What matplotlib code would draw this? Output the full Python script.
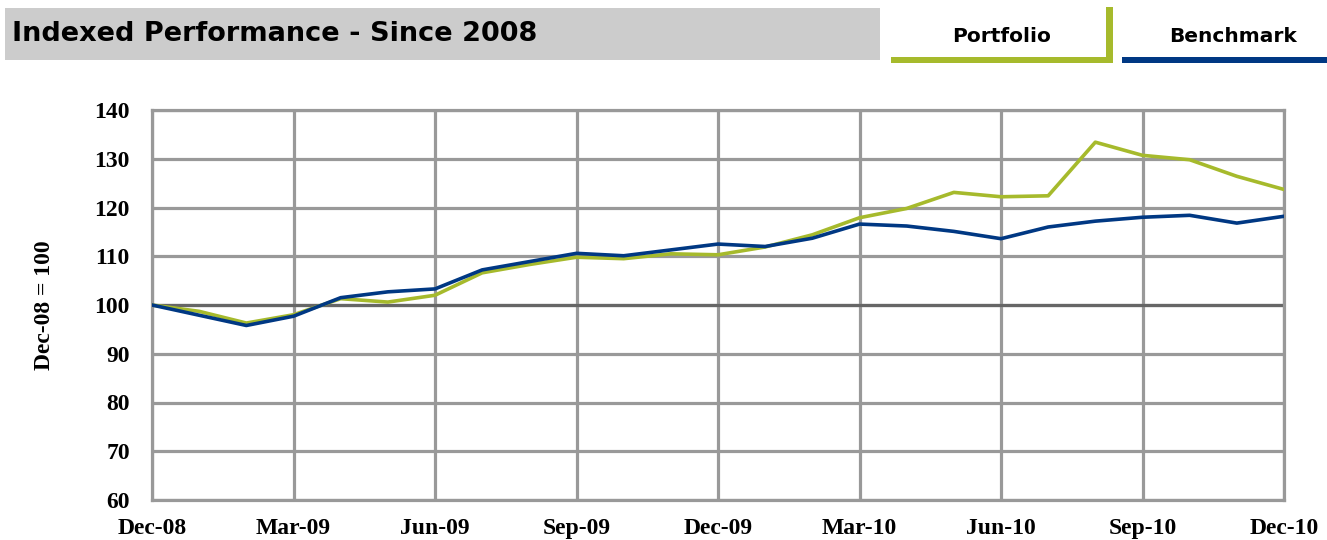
import matplotlib.pyplot as plt
from matplotlib.patches import Rectangle

plt.rcParams['font.family'] = ['Liberation Serif', 'DejaVu Serif']
plt.rcParams['font.weight'] = 'bold'

# month index 0 = Dec-08 ... 24 = Dec-10
months = list(range(25))
tick_pos = [0, 3, 6, 9, 12, 15, 18, 21, 24]
tick_labels = ['Dec-08', 'Mar-09', 'Jun-09', 'Sep-09', 'Dec-09',
               'Mar-10', 'Jun-10', 'Sep-10', 'Dec-10']

portfolio = [100, 98.7, 96.3, 98.0, 101.3, 100.6, 102.0, 106.6, 108.3, 109.8,
             109.5, 110.5, 110.3, 111.9, 114.4, 117.9, 119.8, 123.1, 122.2,
             122.4, 133.4, 130.7, 129.8, 126.4, 123.7]
benchmark = [100, 97.9, 95.8, 97.7, 101.5, 102.7, 103.3, 107.2, 108.9, 110.6,
             110.1, 111.3, 112.5, 112.0, 113.7, 116.6, 116.2, 115.1, 113.6,
             116.0, 117.2, 118.0, 118.4, 116.8, 118.2]

GREEN = '#A6BA2C'
BLUE = '#003883'
GRID = '#999999'

W, H = 1327, 540
fig = plt.figure(figsize=(W / 100, H / 100), dpi=100)


def box(x0, y0, x1, y1, color):
    # pixel coords from top-left
    fig.add_artist(Rectangle((x0 / W, 1 - y1 / H), (x1 - x0) / W, (y1 - y0) / H,
                             transform=fig.transFigure, color=color, lw=0))


# header
box(5, 8, 880, 60, '#CCCCCC')
fig.text(12 / W, 1 - 41 / H, 'Indexed Performance - Since 2008', fontsize=19.5,
         fontweight='bold', family='DejaVu Sans', va='baseline', ha='left')
box(891, 57, 1113, 63, GREEN)
box(1106, 7, 1113, 63, GREEN)
box(1122, 57, 1327, 63, BLUE)
fig.text(1002 / W, 1 - 42 / H, 'Portfolio', fontsize=14.5, fontweight='bold',
         family='DejaVu Sans', va='baseline', ha='center')
fig.text(1233 / W, 1 - 42 / H, 'Benchmark', fontsize=14.5, fontweight='bold',
         family='DejaVu Sans', va='baseline', ha='center')

ax = fig.add_axes([152 / W, 40 / H, 1132 / W, 390 / H])
ax.set_xlim(0, 24)
ax.set_ylim(60, 140)
ax.set_xticks(tick_pos)
ax.set_xticklabels(tick_labels, fontsize=17, fontweight='bold')
ax.set_yticks(range(60, 141, 10))
ax.set_yticklabels([str(v) for v in range(60, 141, 10)], fontsize=17,
                   fontweight='bold')
ax.grid(True, color=GRID, lw=2.3)
ax.set_axisbelow(True)
for s in ax.spines.values():
    s.set_color(GRID)
    s.set_linewidth(2.3)
ax.axhline(100, color='#666666', lw=2.3, zorder=1.5)

ax.plot(months, portfolio, color=GREEN, lw=2.6, zorder=3)
ax.plot(months, benchmark, color=BLUE, lw=2.6, zorder=4)

ax.tick_params(length=0)
ax.tick_params(axis='x', pad=13)
ax.tick_params(axis='y', pad=16)
ax.set_ylabel('Dec-08 = 100', fontweight='bold', fontsize=17, labelpad=28)

fig.savefig('out.png', dpi=100)
